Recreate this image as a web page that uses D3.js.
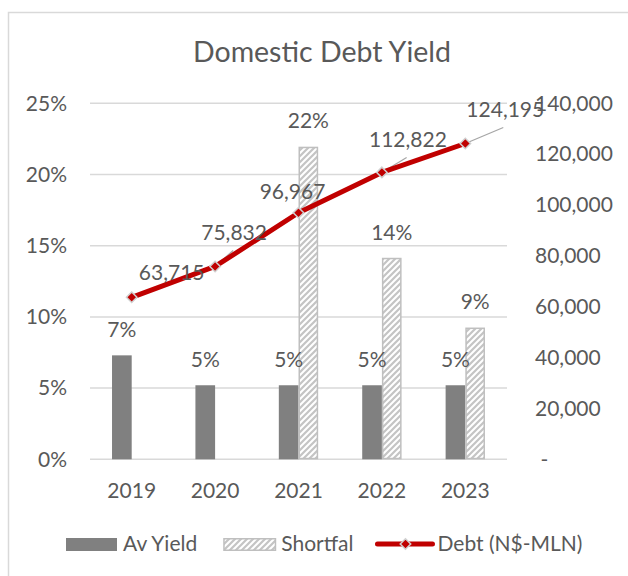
<!DOCTYPE html>
<style>
  body { margin: 0; background: white; }
  svg { font-family: Lato, sans-serif; }
  text { fill: #595959; }
</style>
<body>
</body>
<script src="https://cdn.jsdelivr.net/npm/d3@7"></script>
<script>
  const years = ['2019', '2020', '2021', '2022', '2023'];
  const avYield = [0.073, 0.052, 0.052, 0.052, 0.052];
  const shortfall = [null, null, 0.219, 0.141, 0.092];
  const debt = [63715, 75832, 96967, 112822, 124195];
  const leftTicks = [0, 0.05, 0.10, 0.15, 0.20, 0.25];
  const rightTicks = [0, 20000, 40000, 60000, 80000, 100000, 120000, 140000];

  // hand-placed data labels for the debt line (dx, dy of label centre/baseline, leader line?)
  const debtLabelPos = [
    {dx: 40, dy: -17, leader: false},
    {dx: 19, dy: -26, leader: true},
    {dx: -6, dy: -14, leader: false},
    {dx: 26, dy: -25, leader: true},
    {dx: 40, dy: -26, leader: true}
  ];

  const w = 628, h = 576;
  const l = 90, r = 507, t = 103.3, b = 459.3;
  const fs = 21;

  const svg = d3.select('body').append('svg')
    .attr('width', w)
    .attr('height', h);

  // chart frame
  svg.append('rect')
    .attr('x', 8.5).attr('y', 12.5)
    .attr('width', 700).attr('height', 700)
    .attr('fill', 'white')
    .attr('stroke', '#d9d9d9')
    .attr('stroke-width', 1.5);

  const defs = svg.append('defs');
  defs.append('pattern')
    .attr('id', 'stripes')
    .attr('patternUnits', 'userSpaceOnUse')
    .attr('width', 6).attr('height', 6)
    .call(p => {
      p.append('rect').attr('width', 6).attr('height', 6).attr('fill', 'white');
      p.append('path')
        .attr('d', 'M-1,1 l2,-2 M0,6 l6,-6 M5,7 l2,-2')
        .attr('stroke', '#c4c4c4')
        .attr('stroke-width', 2.2);
    });

  svg.append('text')
    .attr('x', 322).attr('y', 61.7)
    .attr('text-anchor', 'middle')
    .style('font-size', '28.5px')
    .text('Domestic Debt Yield');

  const x = d3.scaleBand().domain(years).range([l, r]).padding(0);
  const barW = x.bandwidth() * 0.236;
  const xSub = d3.scaleBand().domain(['av', 'sf']).range([0, 2 * barW]);
  const cx = d => x(d) + x.bandwidth() / 2;
  const yL = d3.scaleLinear().domain([0, 0.25]).range([b, t]);
  const yR = d3.scaleLinear().domain([0, 140000]).range([b, t]);

  // gridlines
  svg.append('g')
    .selectAll('line')
    .data(leftTicks)
    .join('line')
      .attr('x1', l).attr('x2', r)
      .attr('y1', d => yL(d)).attr('y2', d => yL(d))
      .attr('stroke', '#d9d9d9')
      .attr('stroke-width', 1.5);

  // left axis
  const axL = svg.append('g')
    .attr('transform', `translate(${l - 23}, 0)`)
    .call(d3.axisLeft(yL).tickValues(leftTicks).tickFormat(d3.format('.0%')).tickSize(0).tickPadding(0));
  axL.select('.domain').remove();
  axL.selectAll('text').style('font-size', fs + 'px').style('font-family', 'Lato').attr('fill', '#595959');

  // right axis
  const axR = svg.append('g')
    .attr('transform', `translate(${r + 28}, 0)`)
    .call(d3.axisRight(yR).tickValues(rightTicks)
      .tickFormat(d => d === 0 ? ' -' : d3.format(',')(d)).tickSize(0).tickPadding(0));
  axR.select('.domain').remove();
  axR.selectAll('text').style('font-size', fs + 'px').style('font-family', 'Lato').attr('fill', '#595959')
    .style('white-space', 'pre');

  // bottom axis
  const axB = svg.append('g')
    .attr('transform', `translate(0, ${b})`)
    .call(d3.axisBottom(x).tickSize(0).tickPadding(0));
  axB.select('.domain').remove();
  axB.selectAll('text').attr('dy', 39).attr('y', 0)
    .style('font-size', fs + 'px').style('font-family', 'Lato').attr('fill', '#595959');

  // Av Yield bars
  const bars = svg.append('g');
  bars.selectAll('rect.av')
    .data(years)
    .join('rect')
      .attr('class', 'av')
      .attr('x', d => cx(d) - barW + xSub('av'))
      .attr('width', barW)
      .attr('y', (d, i) => yL(avYield[i]))
      .attr('height', (d, i) => b - yL(avYield[i]))
      .attr('fill', '#808080');

  const sfData = years.map((d, i) => ({year: d, v: shortfall[i]})).filter(d => d.v != null);
  bars.selectAll('rect.sf')
    .data(sfData)
    .join('rect')
      .attr('class', 'sf')
      .attr('x', d => cx(d.year) - barW + xSub('sf') + 0.75)
      .attr('width', barW - 1.5)
      .attr('y', d => yL(d.v))
      .attr('height', d => b - yL(d.v) - 0.75)
      .attr('fill', 'url(#stripes)')
      .attr('stroke', '#bfbfbf')
      .attr('stroke-width', 1.5);

  // bar labels
  const fmtPct = d3.format('.0%');
  svg.append('g').selectAll('text')
    .data(years)
    .join('text')
      .attr('x', d => cx(d) - barW + xSub('av') + barW / 2)
      .attr('y', (d, i) => yL(avYield[i]) - 18)
      .attr('text-anchor', 'middle')
      .style('font-size', fs + 'px')
      .text((d, i) => fmtPct(avYield[i]));
  svg.append('g').selectAll('text')
    .data(sfData)
    .join('text')
      .attr('x', d => cx(d.year) - barW + xSub('sf') + barW / 2)
      .attr('y', d => yL(d.v) - 19)
      .attr('text-anchor', 'middle')
      .style('font-size', fs + 'px')
      .text(d => fmtPct(d.v));

  // debt line
  const line = d3.line()
    .x((d, i) => cx(years[i]))
    .y(d => yR(d));

  // leader lines
  svg.append('g').selectAll('line')
    .data(debt.map((d, i) => ({d, i})).filter(o => debtLabelPos[o.i].leader))
    .join('line')
      .attr('x1', o => cx(years[o.i])).attr('y1', o => yR(o.d))
      .attr('x2', o => cx(years[o.i]) + debtLabelPos[o.i].dx * 0.95)
      .attr('y2', o => yR(o.d) + debtLabelPos[o.i].dy + 10)
      .attr('stroke', '#a6a6a6')
      .attr('stroke-width', 1.2);

  svg.append('path')
    .datum(debt)
    .attr('d', line)
    .attr('fill', 'none')
    .attr('stroke', '#c00000')
    .attr('stroke-width', 5)
    .attr('stroke-linejoin', 'round');

  const diamond = d3.symbol().type(d3.symbolDiamond2).size(70);
  svg.append('g').selectAll('path')
    .data(debt)
    .join('path')
      .attr('transform', (d, i) => `translate(${cx(years[i])}, ${yR(d)})`)
      .attr('d', diamond)
      .attr('fill', '#c00000')
      .attr('stroke', '#d0d0d0')
      .attr('stroke-width', 1.5);

  svg.append('g').selectAll('text')
    .data(debt)
    .join('text')
      .attr('x', (d, i) => cx(years[i]) + debtLabelPos[i].dx)
      .attr('y', (d, i) => yR(d) + debtLabelPos[i].dy)
      .attr('text-anchor', 'middle')
      .style('font-size', fs + 'px')
      .text(d => d3.format(',')(d));

  // legend
  const ly = 551;
  const legend = svg.append('g');
  let lx = 66;
  legend.append('rect').attr('x', lx).attr('y', ly - 13).attr('width', 51).attr('height', 13).attr('fill', '#808080');
  let tx = legend.append('text').attr('x', lx + 57).attr('y', ly).style('font-size', fs + 'px').text('Av Yield');
  lx = lx + 57 + tx.node().getComputedTextLength() + 26;
  legend.append('rect').attr('x', lx + 0.75).attr('y', ly - 12.25).attr('width', 51.5).attr('height', 11.5)
    .attr('fill', 'url(#stripes)').attr('stroke', '#bfbfbf').attr('stroke-width', 1.5);
  tx = legend.append('text').attr('x', lx + 58).attr('y', ly).style('font-size', fs + 'px').text('Shortfal');
  lx = lx + 58 + tx.node().getComputedTextLength() + 24;
  legend.append('line').attr('x1', lx).attr('x2', lx + 55).attr('y1', ly - 7).attr('y2', ly - 7)
    .attr('stroke', '#c00000').attr('stroke-width', 5).attr('stroke-linecap', 'round');
  legend.append('path').attr('transform', `translate(${lx + 28}, ${ly - 7})`).attr('d', diamond)
    .attr('fill', '#c00000').attr('stroke', '#d0d0d0').attr('stroke-width', 1.5);
  legend.append('text').attr('x', lx + 60).attr('y', ly).style('font-size', fs + 'px').text('Debt (N$-MLN)');
</script>
